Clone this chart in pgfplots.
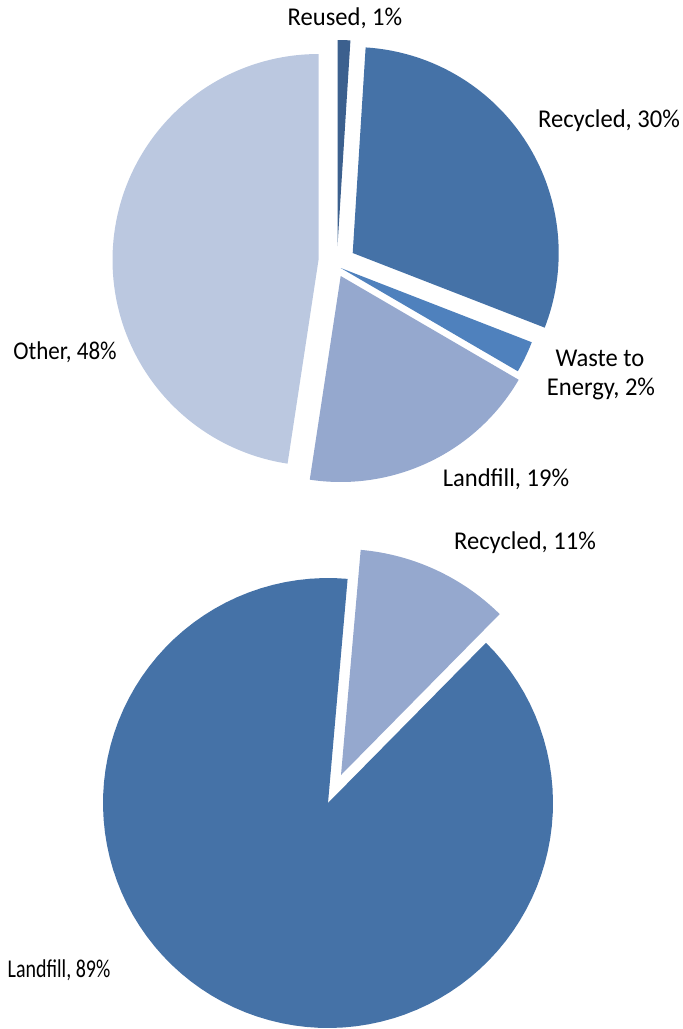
\documentclass[border=0pt]{standalone}
\usepackage{pgfplots}
\pgfplotsset{compat=1.18}
\usepackage{graphicx}
\usepackage{fontspec}
\setmainfont{Carlito}
\definecolor{cReused}{RGB}{60,96,142}
\definecolor{cRecycled}{RGB}{69,114,167}
\definecolor{cWaste}{RGB}{79,129,189}
\definecolor{cLandfill}{RGB}{149,168,206}
\definecolor{cOther}{RGB}{187,200,224}
% #1 apex x, #2 apex y (pixels), #3 radius, #4 cumulative start (%), #5 value (%), #6 colour, #7 rotation (deg)
\newcommand{\pieslice}[7]{%
  \addplot[fill=#6, draw=none, samples at={-1,0,1,...,101}, variable=\t]
  ({#1+((\t<0 || \t>100)?0:#3)*sin(#7+3.6*(#4+(#5)*min(max(\t,0),100)/100))},
   {#2-((\t<0 || \t>100)?0:#3)*cos(#7+3.6*(#4+(#5)*min(max(\t,0),100)/100))});
}
\newcommand{\lab}[1]{\scalebox{0.96}[1]{#1}}
\begin{document}
\begin{tikzpicture}
\begin{axis}[
  width=341.5pt, height=514.5pt, scale only axis,
  xmin=0, xmax=683, ymin=0, ymax=1029, y dir=reverse,
  hide axis, clip=false,
]
\path (axis cs:0,0) rectangle (axis cs:683,1029);
% top pie: Reused 1.0, Recycled 29.9, Waste to Energy 2.5, Landfill 19.0, Other 47.6
\pieslice{337.5}{246}{206}{0}{1.0}{cReused}{0}
\pieslice{352.7}{253}{206}{1.0}{29.9}{cRecycled}{0}
\pieslice{340.7}{268}{205}{30.9}{2.5}{cWaste}{0}
\pieslice{340.7}{276}{206}{33.4}{19.0}{cLandfill}{0}
\pieslice{318.5}{260}{206}{52.4}{47.6}{cOther}{0}
% bottom pie: Recycled 11, Landfill 89
\pieslice{341}{775}{226}{0}{11}{cLandfill}{5}
\pieslice{328}{803}{225}{11}{89}{cRecycled}{5}
\begin{scope}[every node/.style={font=\fontsize{12.8}{15}\selectfont, text=black, inner sep=0pt}]
\node at (axis cs:345,18) {\lab{Reused, 1\%}};
\node at (axis cs:609,121) {\lab{Recycled, 30\%}};
\node at (axis cs:600,358) {\lab{Waste to}};
\node at (axis cs:601,389) {\lab{Energy, 2\%}};
\node at (axis cs:65,352) {\scalebox{0.9}[1]{Other, 48\%}};
\node at (axis cs:506,479) {\lab{Landfill, 19\%}};
\node at (axis cs:525,543) {\lab{Recycled, 11\%}};
\node at (axis cs:59,970) {\scalebox{0.78}[1]{Landfill, 89\%}};
\end{scope}
\end{axis}
\pgfresetboundingbox
\path (current axis.south west) rectangle (current axis.north east);
\end{tikzpicture}
\end{document}
